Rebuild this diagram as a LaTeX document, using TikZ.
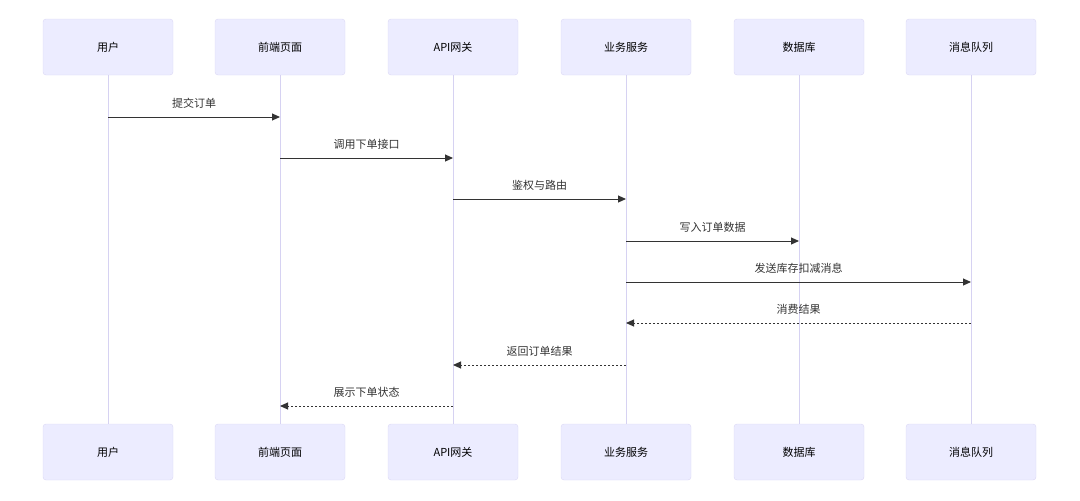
\documentclass[tikz,border=0pt]{standalone}
\usepackage{fontspec}
\setmainfont{Noto Sans CJK SC}
\usetikzlibrary{arrows.meta}
\definecolor{actorFill}{HTML}{ECECFF}
\definecolor{actorLine}{HTML}{DCD8F5}
\definecolor{lifeLine}{HTML}{D6D2F2}
\definecolor{msgLine}{HTML}{333333}

\begin{document}
\begin{tikzpicture}[
  x=1pt, y=-1pt,
  every node/.style={
    font=\fontsize{11}{13}\selectfont,
    text=black,
  },
  actor/.style={
    draw=actorLine,
    fill=actorFill,
    rounded corners=3pt,
    minimum width=130pt,
    minimum height=56pt,
    inner sep=0pt,
  },
  life/.style={
    draw=lifeLine,
    line width=0.8pt,
  },
  call/.style={
    draw=msgLine,
    line width=1pt,
    -{Triangle[length=8pt,width=7pt]},
  },
  reply/.style={
    call,
    dash pattern=on 2pt off 2pt,
  },
  msg/.style={
    above=5pt,
    text=msgLine,
  },
]
\useasboundingbox (0,0) rectangle (1080,501);
\foreach \name/\x/\label in {user/108/用户,page/280/前端页面,gateway/453/API网关,
  service/626/业务服务,db/799/数据库,queue/971/消息队列}{
  \node[actor] (\name-top) at (\x,47) {\label};
  \node[actor] (\name-bot) at (\x,452) {\label};
  \draw[life] (\name-top) -- (\name-bot);
}
\coordinate (m1a) at (108,117); \coordinate (m1b) at (280,117);
\coordinate (m2a) at (280,158); \coordinate (m2b) at (453,158);
\coordinate (m3a) at (453,199); \coordinate (m3b) at (626,199);
\coordinate (m4a) at (626,241); \coordinate (m4b) at (799,241);
\coordinate (m5a) at (626,282); \coordinate (m5b) at (971,282);
\coordinate (m6a) at (971,323); \coordinate (m6b) at (626,323);
\coordinate (m7a) at (626,365); \coordinate (m7b) at (453,365);
\coordinate (m8a) at (453,406); \coordinate (m8b) at (280,406);
\draw[call] (m1a) -- node[msg] {提交订单} (m1b);
\draw[call] (m2a) -- node[msg] {调用下单接口} (m2b);
\draw[call] (m3a) -- node[msg] {鉴权与路由} (m3b);
\draw[call] (m4a) -- node[msg] {写入订单数据} (m4b);
\draw[call] (m5a) -- node[msg] {发送库存扣减消息} (m5b);
\draw[reply] (m6a) -- node[msg] {消费结果} (m6b);
\draw[reply] (m7a) -- node[msg] {返回订单结果} (m7b);
\draw[reply] (m8a) -- node[msg] {展示下单状态} (m8b);
\end{tikzpicture}
\end{document}
